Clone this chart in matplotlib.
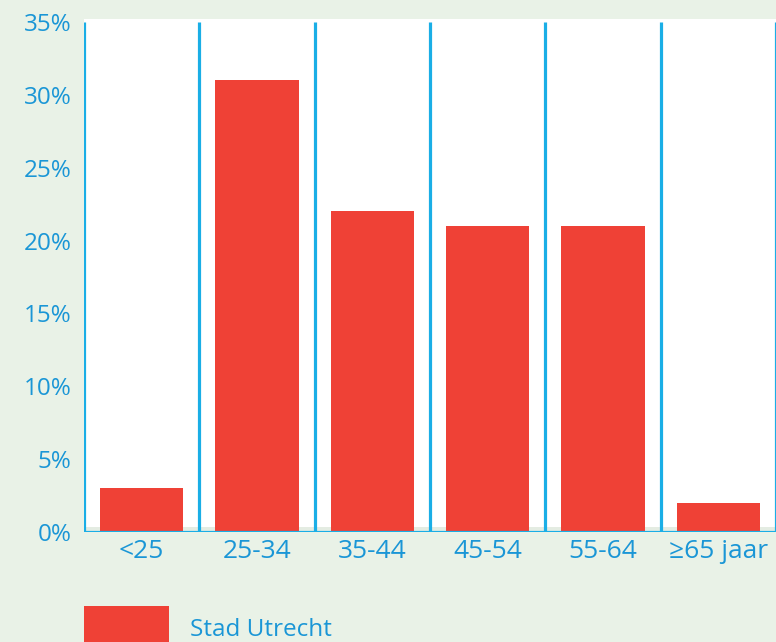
import matplotlib.pyplot as plt
from matplotlib.patches import Patch

# Leeftijdsverdeling, Stad Utrecht
categories = ['<25', '25-34', '35-44', '45-54', '55-64', '≥65 jaar']
values = [3, 31, 22, 21, 21, 2]
y_ticks = [0, 5, 10, 15, 20, 25, 30, 35]
y_labels = ['0%', '5%', '10%', '15%', '20%', '25%', '30%', '35%']
series_name = 'Stad Utrecht'

red = '#ef4136'
line_blue = '#1aaee6'
text_blue = '#1a96d6'
bg = '#e9f2e7'

plt.rcParams['font.family'] = ['Open Sans', 'DejaVu Sans']

fig = plt.figure(figsize=(7.76, 6.42), dpi=100, facecolor=bg)
ax = fig.add_axes([84 / 776, 110 / 642, 692 / 776, 513 / 642])
ax.set_facecolor('white')

x = range(len(categories))
ax.bar(x, values, width=0.72, color=red, zorder=2)

ax.set_xlim(-0.5, len(categories) - 0.5)
ax.set_ylim(0, 35.2)

# light band just above the baseline
ax.axhspan(0, 0.35, color='#e4ece2', zorder=1, lw=0)

# blue separators between the categories
for i in range(len(categories) + 1):
    ax.vlines(i - 0.5, 0, 35, color=line_blue, lw=2.3, zorder=3)
ax.axhline(0, color=line_blue, lw=2.3, zorder=3)

for s in ax.spines.values():
    s.set_visible(False)

ax.set_yticks(y_ticks)
ax.set_yticklabels(y_labels)
ax.set_xticks(list(x))
ax.set_xticklabels(categories)
ax.tick_params(axis='y', length=0, pad=9, labelsize=17.5, labelcolor=text_blue)
ax.tick_params(axis='x', length=0, pad=5, labelsize=19, labelcolor=text_blue)

handle = Patch(facecolor=red, edgecolor='none')
fig.legend([handle], [series_name], loc='upper left',
           bbox_to_anchor=(84 / 776, 36 / 642), frameon=False,
           borderpad=0, borderaxespad=0,
           handlelength=3.5, handleheight=2.45, handletextpad=0.85,
           prop={'size': 17.5}, labelcolor=text_blue)

fig.savefig('out.png', dpi=100, facecolor=bg)
